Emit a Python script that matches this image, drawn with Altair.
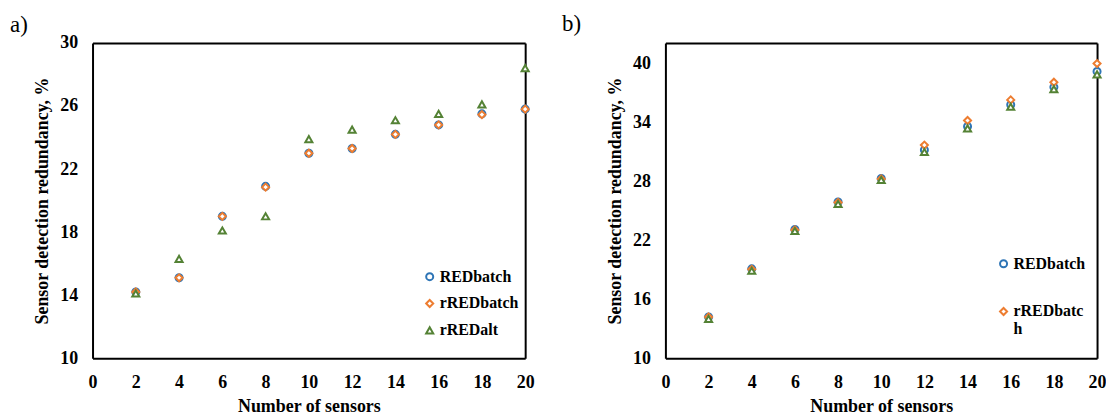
import altair as alt
import pandas as pd

sensors = [2, 4, 6, 8, 10, 12, 14, 16, 18, 20]
series = ["REDbatch", "rREDbatch", "rREDalt"]
colors = ["#2E75B6", "#ED7D31", "#548235"]
shapes = ["circle", "diamond", "triangle-up"]

a_redbatch = [14.2, 15.1, 19.0, 20.9, 23.0, 23.3, 24.2, 24.8, 25.5, 25.8]
a_rredbatch = [14.2, 15.1, 19.0, 20.85, 23.0, 23.3, 24.2, 24.8, 25.45, 25.8]
a_rredalt = [14.1, 16.3, 18.1, 19.0, 23.9, 24.5, 25.1, 25.5, 26.1, 28.4]

b_redbatch = [14.2, 19.1, 23.1, 25.9, 28.3, 31.2, 33.6, 35.8, 37.6, 39.2]
b_rredbatch = [14.2, 19.05, 23.05, 25.85, 28.25, 31.7, 34.2, 36.3, 38.1, 40.0]
b_rredalt = [14.0, 18.9, 22.95, 25.7, 28.15, 31.0, 33.4, 35.6, 37.4, 38.9]

a_yticks = [10, 14, 18, 22, 26, 30]
b_yticks = [10, 16, 22, 28, 34, 40]
xticks = [0, 2, 4, 6, 8, 10, 12, 14, 16, 18, 20]


def frame(lists):
    rows = []
    for k, (name, vals) in enumerate(zip(series, lists)):
        for n, v in zip(sensors, vals):
            rows.append({"n": n, "v": v, "series": name, "k": k})
    return pd.DataFrame(rows)


FONT = "Liberation Serif"
EDGE = dict(domain=True, domainColor="black", domainWidth=2, ticks=False, grid=False)


def panel(df, ydomain, yticks, label, legend, w, dx, offset):
    xs = alt.Scale(domain=[0, 20], nice=False, zero=False)
    ys = alt.Scale(domain=ydomain, nice=False, zero=False)
    pts = alt.Chart(df).mark_point(
        fill="white", filled=False, opacity=1, strokeWidth=2, size=50
    ).encode(
        x=alt.X("n:Q", scale=xs,
                axis=alt.Axis(orient="bottom", values=xticks, labelFlush=False,
                              labelOverlap=False, labelPadding=15,
                              title="Number of sensors", titlePadding=7, **EDGE)),
        y=alt.Y("v:Q", scale=ys,
                axis=alt.Axis(orient="left", values=yticks, labelFlush=False,
                              labelOverlap=False, labelPadding=15,
                              title="Sensor detection redundancy, %",
                              titlePadding=8, **EDGE)),
        stroke=alt.Stroke("series:N", scale=alt.Scale(domain=series, range=colors), legend=legend),
        shape=alt.Shape("series:N", scale=alt.Scale(domain=series, range=shapes), legend=legend),
        order=alt.Order("k:Q"),
    )
    edges = alt.Chart(df).mark_point(opacity=0).encode(
        x=alt.X("n:Q", scale=xs, axis=alt.Axis(orient="top", labels=False, title=None, **EDGE)),
        y=alt.Y("v:Q", scale=ys, axis=alt.Axis(orient="right", labels=False, title=None, **EDGE)),
    )
    return alt.layer(edges, pts, title=alt.TitleParams(
        label, anchor="start", font=FONT, fontSize=23, fontWeight="normal",
        color="black", dx=dx, offset=offset)).resolve_axis(
        x="independent", y="independent").properties(width=w, height=317)


leg_a = alt.Legend(orient="none", legendX=331, legendY=227, title=None,
                   labelFont=FONT, labelFontWeight="bold", labelFontSize=16,
                   labelColor="black", labelOffset=2, rowPadding=11,
                   symbolFillColor="white", symbolStrokeWidth=2, symbolSize=50)
leg_b = alt.Legend(orient="none", legendX=332, legendY=214, title=None,
                   values=["REDbatch", "rREDbatch"],
                   labelExpr="datum.label == 'rREDbatch' ? ['rREDbatc', 'h'] : datum.label",
                   labelFont=FONT, labelFontWeight="bold", labelFontSize=16,
                   labelColor="black", labelOffset=2, rowPadding=32,
                   symbolFillColor="white", symbolStrokeWidth=2, symbolSize=50)

left = panel(frame([a_redbatch, a_rredbatch, a_rredalt]), [10, 30], a_yticks, "a)",
             leg_a, 435, -24, -3)
right = panel(frame([b_redbatch, b_rredbatch, b_rredalt]), [10, 42.1], b_yticks, "b)",
              leg_b, 434, -45, 7)

chart = alt.hconcat(left, right, spacing=28).resolve_scale(
    stroke="independent", shape="independent", y="independent"
).properties(
    padding={"left": 2, "top": 4, "right": 0, "bottom": 0},
    background="white",
).configure_view(
    stroke=None
).configure_axis(
    grid=False, ticks=False,
    labelFont=FONT, labelFontWeight="bold", labelFontSize=18, labelColor="black",
    titleFont=FONT, titleFontWeight="bold", titleFontSize=18, titleColor="black",
)

chart.save("out.html", embed_options={"renderer": "svg", "actions": False})
